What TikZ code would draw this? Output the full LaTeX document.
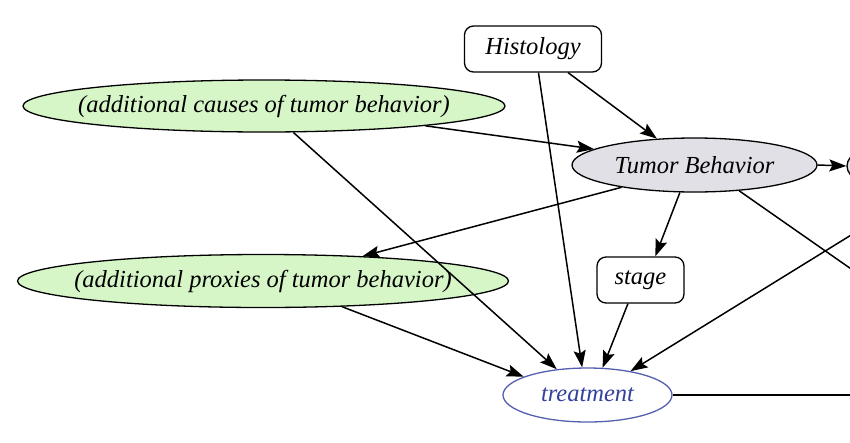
\documentclass[tikz,border=0pt]{standalone}
\usepackage{fontspec}
\setmainfont{Liberation Serif}
\usetikzlibrary{arrows.meta,shapes.geometric}
\definecolor{causefill}{RGB}{214,246,200}
\definecolor{tbfill}{RGB}{224,224,230}
\definecolor{trblue}{RGB}{85,95,175}
\definecolor{trtext}{RGB}{50,65,155}
\newcommand\ctrtxt[1]{\makebox[0pt]{#1}}
\begin{document}
\begin{tikzpicture}[x=1pt,y=-1pt,
  every node/.style={font=\fontsize{24.5}{28}\selectfont\itshape, inner sep=0pt},
  oval/.style={ellipse, draw, line width=1.3pt},
  greenoval/.style={oval, fill=causefill},
  box/.style={rectangle, rounded corners=9pt, draw, line width=1.3pt, fill=white},
  edge/.style={draw, line width=1.5pt, -{Stealth[length=17pt,width=12pt,inset=3pt]}}
]
\useasboundingbox (0,0) rectangle (850,442);
\clip (0,0) rectangle (850,442);

\node[box, minimum width=137pt, minimum height=46pt] (hist) at (533,49) {Histology};
\node[greenoval, minimum width=482pt, minimum height=52pt] (causes) at (264,106) {\ctrtxt{(additional causes of tumor behavior)}};
\node[oval, fill=tbfill, minimum width=245pt, minimum height=54pt] (tb) at (694.5,165) {\ctrtxt{Tumor Behavior}};
\node[oval, fill=tbfill, minimum width=90pt, minimum height=46pt] (right) at (892,166) {};
\node[greenoval, minimum width=491pt, minimum height=53pt] (proxies) at (263,281) {\ctrtxt{(additional proxies of tumor behavior)}};
\node[box, minimum width=87pt, minimum height=46pt] (stage) at (640.5,280) {stage};
\node[oval, draw=trblue, text=trtext, minimum width=169pt, minimum height=54pt] (treat) at (587.5,395) {\ctrtxt{treatment}};
\coordinate (offA) at (950,338);
\coordinate (offB) at (950,174);
\coordinate (offC) at (960,395);

\draw[edge] (hist.-34) -- (tb.145);
\draw[edge] (hist.-77.7) -- (treat.101);
\draw[edge] (causes.-7) -- (tb.171);
\draw[edge] (causes.-42) -- (treat.140);
\draw[edge] (tb.-163) -- (proxies.14);
\draw[edge] (tb.-118) -- (stage.58);
\draw[edge] (tb.0) -- (right.180);
\draw[edge] (tb.-30) -- (offA);
\draw[edge] (offB) -- (treat.29);
\draw[edge] (proxies.-18) -- (treat.164);
\draw[edge] (stage.-118.5) -- (treat.61);
\draw[edge] (treat.0) -- (offC);
\end{tikzpicture}
\end{document}
